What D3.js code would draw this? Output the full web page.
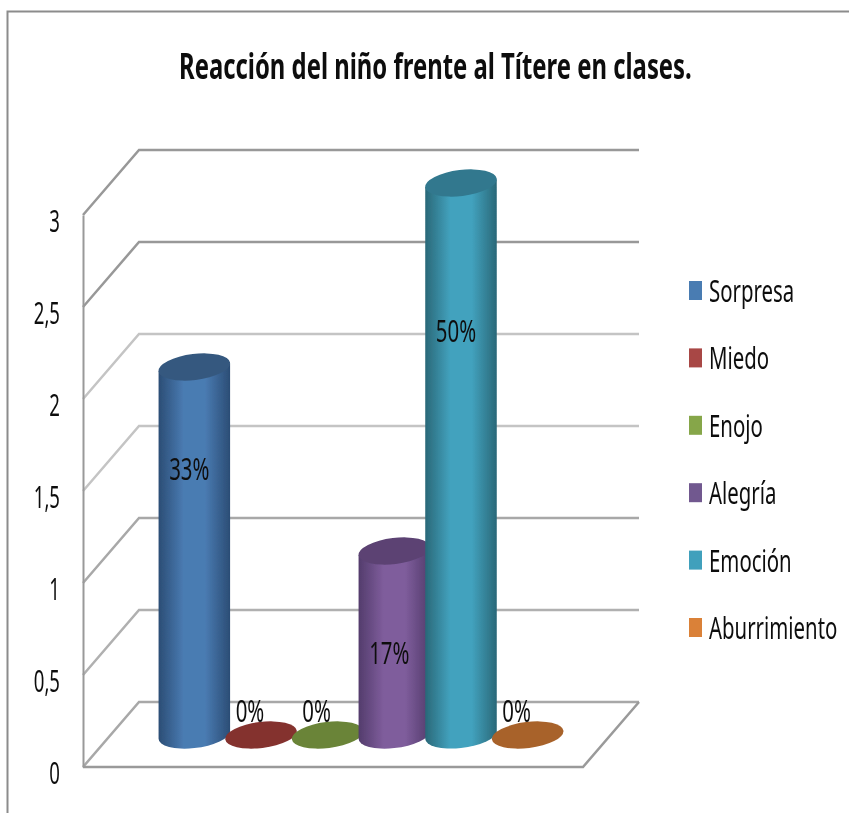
<!DOCTYPE html>
<html>
<head>
<meta charset="utf-8">
<script src="https://cdn.jsdelivr.net/npm/d3@7"></script>
<style>
  html, body { margin: 0; padding: 0; background: #fff; }
  svg { display: block; }
  text { font-family: "Noto Sans", "Open Sans", sans-serif; fill: #111; }
</style>
</head>
<body>
<div id="container"></div>
<script>
const titleText = "Reacción del niño frente al Títere en clases."
const categories = ["Sorpresa", "Miedo", "Enojo", "Alegría", "Emoción", "Aburrimiento"]
const values = [2, 0, 0, 1, 3, 0]
const percentLabels = ["33%", "0%", "0%", "17%", "50%", "0%"]
const tickValues = [0, 0.5, 1, 1.5, 2, 2.5, 3]

const width = 849
const height = 813

// colours per category: centre of the column, edge of the column, top cap, legend swatch
const centreColors = ["#4a7bb2", "#84312f", "#6a8437", "#7f5d9c", "#42a2be", "#a8622a"]
const edgeColors = ["#2b4d75", "#84312f", "#6a8437", "#533c6c", "#2a6878", "#a8622a"]
const capColors = ["#36597f", "#84312f", "#6a8437", "#5b4373", "#31788e", "#a8622a"]
const swatchColors = ["#4a7bb2", "#a84744", "#86a64a", "#71588f", "#41a0bc", "#da8137"]
const gridTones = ["#a8a8a8", "#b0b0b0", "#a8a8a8", "#c4c4c4", "#c4c4c4", "#989898", "#989898"]

const depthX = 56
const depthY = -65
const frontLeft = 83
const frontRight = 583
const commaFormat = d3.formatLocale({ decimal: ",", thousands: ".", grouping: [3], currency: ["", ""] }).format("~g")

const yFront = d3.scaleLinear().domain([0, 3]).range([767, 215])
const xBand = d3.scaleBand().domain(categories).range([161, 561])
const columnBase = 735
const columnHeight = (v) => yFront(0) - yFront(v)

const svg = d3.select("#container").append("svg").attr("width", width).attr("height", height)

const defs = svg.append("defs")
defs.append("filter").attr("id", "soft").attr("x", "-5%").attr("y", "-5%").attr("width", "110%").attr("height", "110%")
    .append("feGaussianBlur").attr("stdDeviation", 0.6)

categories.forEach((c, i) => {
    const grad = defs.append("linearGradient").attr("id", "col" + i)
    grad.append("stop").attr("offset", "0%").attr("stop-color", edgeColors[i])
    grad.append("stop").attr("offset", "35%").attr("stop-color", centreColors[i])
    grad.append("stop").attr("offset", "65%").attr("stop-color", centreColors[i])
    grad.append("stop").attr("offset", "100%").attr("stop-color", edgeColors[i])
})

const root = svg.append("g").attr("filter", "url(#soft)")

// outer frame, only top and left are inside the picture
root.append("path")
    .attr("d", `M7.5,${height} V11.5 H${width}`)
    .attr("fill", "none").attr("stroke", "#8c8c8c").attr("stroke-width", 2)

// title, squeezed to the width it has in the picture
const title = root.append("text")
    .attr("font-size", 36).attr("font-weight", 700)
    .text(titleText)
title.attr("transform", `translate(179,79) scale(${513 / title.node().getComputedTextLength()},1)`)

// back wall lines and side wall diagonals
const walls = root.append("g")
tickValues.forEach((t, i) => {
    const y = yFront(t)
    walls.append("path")
        .attr("d", `M${frontLeft},${y} L${frontLeft + depthX},${y + depthY} H${frontRight + depthX}`)
        .attr("fill", "none")
        .attr("stroke", gridTones[i])
        .attr("stroke-width", 2.5)
})

// floor outline
root.append("path")
    .attr("d", `M${frontLeft},${yFront(0)} H${frontRight} L${frontRight + depthX},${yFront(0) + depthY}`)
    .attr("fill", "none").attr("stroke", "#9a9a9a").attr("stroke-width", 2.5)

// y axis
const axis = root.append("g")
    .attr("transform", `translate(${frontLeft},0)`)
    .call(d3.axisLeft(yFront).tickValues(tickValues).tickFormat(commaFormat).tickSize(0))
axis.select(".domain").attr("stroke", "#999").attr("stroke-width", 2)
axis.selectAll("text")
    .attr("x", null).attr("dy", null)
    .attr("font-size", 30)
    .attr("font-family", null)
    .attr("text-anchor", "end")
    .attr("transform", "translate(-23,16) scale(0.62,1)")

// columns
const rx = 36
const ry = 13
const tilt = -7
const rad = tilt * Math.PI / 180
const halfW = Math.sqrt(rx * rx * Math.cos(rad) ** 2 + ry * ry * Math.sin(rad) ** 2)
const lean = (rx * rx - ry * ry) * Math.abs(Math.sin(rad) * Math.cos(rad)) / halfW

const rows = categories.map((name, i) => ({ name, value: values[i], label: percentLabels[i], i }))
const cx = (d) => xBand(d.name) + xBand.bandwidth() / 2
const topY = (d) => columnBase - columnHeight(d.value)

const column = root.append("g").selectAll("g").data(rows).join("g")

column.filter((d) => d.value > 0).append("path")
    .attr("fill", (d) => `url(#col${d.i})`)
    .attr("d", (d) => {
        const x = cx(d)
        return `M${x - halfW},${topY(d) + lean} L${x + halfW},${topY(d) - lean} ` +
            `V${columnBase - lean} A${rx},${ry} ${tilt} 0 1 ${x - halfW},${columnBase + lean} Z`
    })

column.append("ellipse")
    .attr("rx", rx).attr("ry", ry)
    .attr("fill", (d) => capColors[d.i])
    .attr("transform", (d) => `translate(${cx(d)},${topY(d)}) rotate(${tilt})`)

// percent labels
const labelDrop = (d) => (d.value === 0 ? -13 : d.value === 3 ? 159 : 113)
column.append("text")
    .attr("font-size", 30)
    .attr("text-anchor", "middle")
    .attr("transform", (d) => `translate(${cx(d) + (d.value === 0 ? -11 : -5)},${topY(d) + labelDrop(d)}) scale(0.68,1)`)
    .text((d) => d.label)

// legend
const legendY = d3.scalePoint().domain(categories).range([291, 628])
const legend = root.append("g").selectAll("g").data(rows).join("g")
    .attr("transform", (d) => `translate(689,${legendY(d.name)})`)
legend.append("rect")
    .attr("y", -10).attr("width", 13).attr("height", 19)
    .attr("fill", (d) => swatchColors[d.i])
legend.append("text")
    .attr("font-size", 30)
    .attr("transform", "translate(20,11) scale(0.68,1)")
    .text((d) => d.name)
</script>
</body>
</html>
